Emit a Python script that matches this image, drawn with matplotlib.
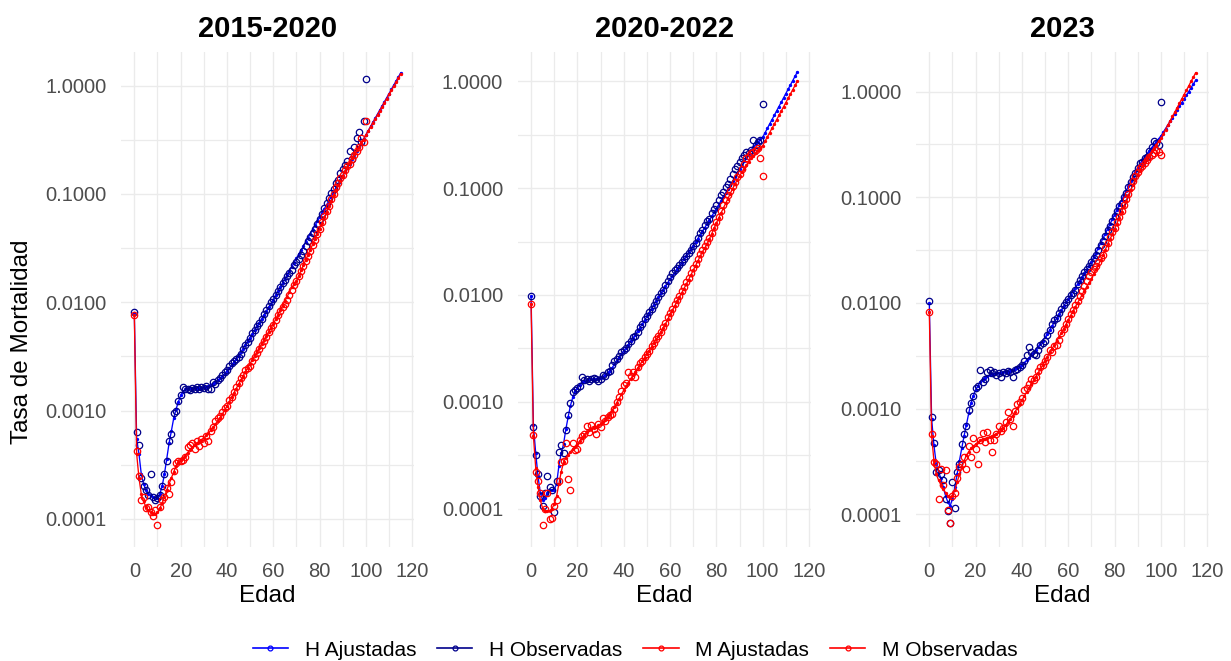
import numpy as np
from matplotlib import pyplot as plt
from matplotlib.lines import Line2D
from matplotlib.ticker import FixedLocator, FuncFormatter

plt.rcParams['font.family'] = ['Liberation Sans', 'DejaVu Sans']

# tasas de mortalidad por 100 000 habitantes, edades 0-100 (observadas) y 0-115 (ajustadas)
edad_obs = list(range(0, 101))
edad_fit = list(range(0, 116))

titulos = ["2015-2020", "2020-2022", "2023"]

h_obs_1520 = [810, 63, 48, 24, 20, 18.5, 16.5, 26, 16, 15,
              15.5, 16.5, 20, 26, 34, 53, 61, 96, 100, 124,
              138, 164, 157, 160, 155, 163, 158, 165, 160, 167,
              162, 170, 160, 158, 185, 178, 190, 200, 215, 225,
              235, 260, 275, 290, 300, 310, 330, 370, 400, 430,
              470, 520, 560, 600, 650, 700, 780, 850, 920, 1000,
              1080, 1170, 1260, 1380, 1500, 1620, 1750, 1880, 2000, 2200,
              2350, 2500, 2750, 3000, 3300, 3650, 4000, 4400, 4800, 5300,
              5900, 6600, 7400, 8200, 9200, 10200, 11000, 12500, 13500, 15500,
              17000, 18500, 20000, 25000, 21000, 27000, 33000, 37000, 30000, 47000,
              115000]
m_obs_1520 = [770, 42, 25, 15, 16, 12.5, 13, 11.5, 10.7, 12,
              8.8, 13, 15, 16, 19.5, 17, 22, 28, 33, 34,
              34, 35, 37, 46, 48, 50, 44, 53, 47, 55,
              50, 58, 52, 65, 70, 80, 85, 90, 97, 105,
              110, 125, 135, 150, 165, 180, 200, 215, 235, 250,
              260, 285, 310, 340, 370, 400, 440, 480, 530, 580,
              620, 690, 760, 830, 900, 970, 1060, 1170, 1300, 1440,
              1570, 1750, 1950, 2150, 2400, 2650, 3000, 3400, 3800, 4300,
              4800, 5500, 6300, 7000, 7800, 8900, 10000, 11500, 12500, 14000,
              15000, 16500, 18000, 19000, 21000, 23000, 25000, 27000, 33000, 30000,
              47000]
h_fit_1520 = [800, 55, 40, 26, 21, 18.5, 17, 16.5, 16, 15.5,
              15.5, 17, 20, 26, 36, 50, 65, 85, 103, 120,
              138, 150, 157, 160, 161, 161, 161, 161, 162, 163,
              164, 166, 169, 173, 178, 184, 191, 199, 208, 219,
              232, 246, 262, 280, 300, 322, 347, 374, 404, 437,
              473, 512, 555, 601, 651, 705, 765, 830, 900, 975,
              1060, 1160, 1260, 1380, 1500, 1640, 1790, 1960, 2130, 2330,
              2540, 2780, 3030, 3300, 3610, 3940, 4300, 4690, 5120, 5590,
              6100, 6660, 7260, 7930, 8650, 9440, 10400, 11300, 12300, 13500,
              14700, 16100, 17500, 19100, 20900, 22800, 24900, 27100, 29600, 32300,
              35300, 38500, 42000, 45900, 50000, 54600, 59600, 65100, 71000, 77500,
              84600, 92300, 101000, 110000, 120000, 131000]
m_fit_1520 = [770, 40, 24, 17, 14.5, 13, 12, 11.5, 11, 11,
              11.5, 12.5, 14, 16, 18.5, 21, 24, 27, 31, 33.5,
              35, 36.5, 38.5, 41, 43.5, 46, 48, 50, 52, 54,
              56, 59, 62, 66, 70, 75, 80, 86, 93, 101,
              110, 121, 133, 146, 160, 175, 192, 210, 229, 250,
              272, 296, 322, 350, 381, 414, 450, 490, 533, 580,
              630, 695, 765, 845, 930, 1025, 1130, 1250, 1370, 1470,
              1570, 1760, 1970, 2200, 2460, 2750, 3070, 3430, 3830, 4290,
              4800, 5400, 6100, 6850, 7700, 8650, 9700, 10800, 12000, 13300,
              14700, 16200, 17800, 19500, 21300, 23200, 25200, 27300, 29500, 31800,
              35000, 38200, 41600, 45400, 49400, 53900, 58700, 64000, 69800, 76000,
              82900, 90300, 98500, 107000, 117000, 128000]

h_obs_2022 = [970, 58, 32, 21, 13, 10.6, 14, 20, 16, 15,
              9.3, 18, 34, 39, 33, 54, 75, 97, 124, 130,
              135, 140, 170, 160, 165, 158, 162, 168, 163, 158,
              165, 180, 175, 190, 195, 220, 240, 250, 270, 290,
              305, 320, 345, 370, 400, 410, 450, 500, 540, 590,
              640, 700, 740, 800, 880, 960, 1050, 1120, 1230, 1350,
              1480, 1600, 1700, 1800, 1900, 2050, 2150, 2300, 2450, 2650,
              2850, 3050, 3400, 3800, 4100, 4500, 4900, 5200, 5800, 6400,
              7000, 7800, 8600, 9300, 10300, 11000, 12300, 13600, 15000, 16300,
              17500, 19000, 20500, 22000, 21500, 23000, 28000, 25500, 27000, 28000,
              62000]
m_obs_2022 = [830, 49, 22, 18, 14, 7, 10, 14, 8, 8.2,
              10.5, 12, 18, 27, 28, 41, 19, 15, 41, 35,
              36, 44, 48, 50, 59, 52, 60, 55, 50, 62,
              58, 70, 66, 72, 75, 77, 85, 100, 110, 125,
              145, 150, 190, 175, 190, 170, 210, 230, 240, 260,
              280, 300, 330, 355, 385, 410, 450, 500, 550, 620,
              680, 740, 820, 890, 980, 1080, 1200, 1320, 1450, 1600,
              1780, 1950, 2150, 2400, 2650, 2900, 3150, 3400, 3800, 4300,
              4800, 5400, 6100, 6900, 7800, 8600, 9500, 10600, 11500, 12800,
              13600, 15000, 17000, 19000, 20000, 21500, 22000, 23000, 24000, 19000,
              13000]
h_fit_2022 = [970, 60, 33, 20, 14, 12, 12.5, 14, 15, 15,
              15, 17, 25, 33, 40, 55, 72, 92, 110, 125,
              136, 145, 152, 157, 160, 162, 163, 164, 165, 166,
              168, 172, 178, 186, 196, 208, 225, 242, 260, 280,
              300, 320, 343, 368, 395, 425, 458, 495, 535, 580,
              630, 685, 745, 810, 880, 955, 1035, 1120, 1210, 1305,
              1405, 1510, 1620, 1740, 1870, 2010, 2160, 2320, 2500, 2690,
              2900, 3130, 3380, 3650, 3950, 4280, 4640, 5030, 5460, 5930,
              6440, 7000, 7610, 8280, 9010, 9800, 10700, 11600, 12700, 13800,
              15000, 16300, 17800, 19300, 21000, 22800, 24300, 25800, 27200, 28600,
              30000, 33000, 36300, 39900, 43800, 48100, 52900, 58100, 63800, 70100,
              77000, 84600, 93000, 102000, 112000, 123000]
m_fit_2022 = [830, 48, 24, 16, 12, 10, 9.5, 9.5, 9.5, 10,
              11, 13, 17, 22, 27, 30, 32, 34, 36, 38,
              40, 43, 46, 49, 52, 54, 56, 57, 58, 60,
              62, 65, 68, 72, 77, 83, 90, 98, 107, 117,
              128, 139, 151, 164, 177, 191, 206, 222, 240, 259,
              280, 302, 327, 354, 383, 415, 450, 490, 535, 590,
              660, 720, 790, 870, 955, 1045, 1145, 1260, 1390, 1540,
              1700, 1880, 2080, 2300, 2540, 2760, 3000, 3350, 3750, 4200,
              4700, 5250, 5850, 6500, 7200, 8000, 8900, 9900, 10900, 11900,
              13000, 14100, 15200, 16400, 17700, 19000, 20200, 21400, 22600, 23800,
              25000, 27500, 30200, 33100, 36300, 39800, 43700, 48000, 52700, 57800,
              63400, 69600, 76400, 83800, 92000, 101000]

h_obs_2023 = [1050, 83, 47, 25, 26, 24, 21, 13.8, 10.8, 8.2,
              20, 11.5, 25, 30, 46, 57, 68, 98, 114, 132,
              158, 165, 230, 180, 190, 220, 230, 215, 220, 210,
              218, 200, 220, 215, 225, 220, 200, 230, 235, 250,
              260, 280, 320, 380, 340, 330, 320, 360, 400, 420,
              440, 500, 560, 630, 690, 720, 800, 880, 950, 1030,
              1100, 1180, 1250, 1330, 1500, 1650, 1800, 1950, 2100, 2250,
              2450, 2650, 2850, 3200, 3550, 3900, 4300, 4900, 5300, 6000,
              6700, 7500, 8200, 8900, 10000, 11000, 12500, 14000, 15500, 17000,
              19000, 21000, 21500, 23500, 24000, 27500, 30000, 34000, 33000, 31000,
              80000]
m_obs_2023 = [830, 57, 31, 30, 13.8, 27, 19, 26, 11, 8.2,
              15, 16, 22, 28, 30, 35, 27, 44, 35, 53,
              41, 30, 50, 59, 48, 60, 50, 39, 50, 58,
              68, 62, 66, 75, 92, 80, 68, 95, 110, 115,
              125, 150, 158, 170, 190, 185, 200, 225, 250, 260,
              280, 310, 360, 340, 390, 400, 450, 520, 570, 630,
              700, 780, 860, 950, 1050, 1170, 1300, 1450, 1600, 1780,
              1950, 2100, 2250, 2450, 2650, 2850, 3300, 3700, 4200, 4700,
              5100, 5800, 6500, 7500, 8500, 9600, 10800, 12500, 14200, 16000,
              17400, 19000, 20000, 21000, 22500, 24000, 25000, 26500, 28000, 27000,
              25000]
h_fit_2023 = [1000, 80, 45, 30, 25, 22, 18, 15, 13, 12,
              14, 18, 24, 32, 42, 55, 70, 90, 112, 132,
              150, 165, 178, 188, 196, 202, 207, 211, 214, 216,
              218, 219, 220, 221, 223, 226, 230, 235, 242, 250,
              260, 272, 286, 302, 320, 340, 362, 386, 412, 441,
              472, 510, 555, 605, 660, 720, 785, 855, 930, 1010,
              1095, 1185, 1285, 1390, 1505, 1630, 1765, 1910, 2070, 2245,
              2440, 2710, 3000, 3330, 3690, 4090, 4540, 5040, 5580, 6190,
              6870, 7620, 8450, 9370, 10400, 11500, 12800, 14200, 15700, 17400,
              19000, 20700, 22400, 24000, 25800, 27600, 29500, 31500, 33600, 35800,
              38000, 41200, 44700, 48400, 52500, 56900, 61700, 66900, 72500, 78600,
              85200, 92400, 100000, 109000, 118000, 128000]
m_fit_2023 = [830, 55, 32, 24, 21, 19, 17.5, 16, 15, 14.5,
              15, 17, 20, 24, 28, 32, 36, 39, 42, 44,
              46, 48, 50, 51, 52, 53, 54, 55, 56, 58,
              60, 63, 66, 70, 75, 80, 86, 93, 101, 110,
              120, 131, 143, 156, 170, 185, 201, 218, 237, 260,
              285, 310, 340, 370, 400, 435, 475, 520, 570, 625,
              690, 760, 835, 915, 1000, 1095, 1200, 1310, 1430, 1560,
              1700, 1880, 2080, 2300, 2550, 2850, 3200, 3600, 4000, 4480,
              5000, 5650, 6400, 7250, 8200, 9300, 10500, 11800, 13200, 14700,
              16300, 17900, 19600, 21400, 23300, 25200, 27200, 29300, 31500, 33800,
              36200, 39800, 43800, 48200, 53000, 58300, 64100, 70500, 77600, 85300,
              93800, 103000, 113000, 125000, 137000, 151000]

paneles = [
    (h_obs_1520, m_obs_1520, h_fit_1520, m_fit_1520),
    (h_obs_2022, m_obs_2022, h_fit_2022, m_fit_2022),
    (h_obs_2023, m_obs_2023, h_fit_2023, m_fit_2023),
]

# limites del eje y de cada panel (log10) y posicion de los ejes
ylims = [(-4.2585, 0.311), (-4.36, 0.276), (-4.31, 0.376)]
lefts = [0.0983, 0.4206, 0.7441]

c_h_fit = "#0000FF"
c_h_obs = "#00008B"
c_m_fit = "#FF0000"
c_m_obs = "#FF0000"
gris = "#4D4D4D"

fig = plt.figure(figsize=(12.31, 6.61), dpi=100)

for i, (h_obs, m_obs, h_fit, m_fit) in enumerate(paneles):
    ax = fig.add_axes([lefts[i], 0.1725, 0.238, 0.7489])
    ax.set_yscale("log")

    ax.plot(edad_fit, np.array(h_fit) / 1e5, color=c_h_fit, lw=0.95,
            marker="o", ms=1.4, zorder=3)
    ax.plot(edad_obs, np.array(h_obs) / 1e5, ls="none", marker="o", ms=4.6,
            mfc="none", mec=c_h_obs, mew=0.9, zorder=4)
    ax.plot(edad_fit, np.array(m_fit) / 1e5, color=c_m_fit, lw=0.95,
            marker="o", ms=1.4, zorder=5)
    ax.plot(edad_obs, np.array(m_obs) / 1e5, ls="none", marker="o", ms=4.6,
            mfc="none", mec=c_m_obs, mew=0.9, zorder=6)

    ax.set_xlim(-5.75, 120.75)
    ax.set_ylim(10 ** ylims[i][0], 10 ** ylims[i][1])

    ax.xaxis.set_major_locator(FixedLocator([0, 20, 40, 60, 80, 100, 120]))
    ax.xaxis.set_minor_locator(FixedLocator([10, 30, 50, 70, 90, 110]))
    ax.yaxis.set_major_locator(FixedLocator([1e-4, 1e-3, 1e-2, 1e-1, 1]))
    ax.yaxis.set_minor_locator(FixedLocator([10 ** -4.5, 10 ** -3.5, 10 ** -2.5,
                                             10 ** -1.5, 10 ** -0.5]))
    ax.yaxis.set_major_formatter(FuncFormatter(lambda v, p: "%.4f" % v))
    ax.yaxis.set_minor_formatter(FuncFormatter(lambda v, p: ""))

    ax.grid(True, which="major", color="#EBEBEB", lw=1.0)
    ax.grid(True, which="minor", color="#EBEBEB", lw=0.9)
    ax.set_axisbelow(True)
    for s in ax.spines.values():
        s.set_visible(False)
    ax.tick_params(which="both", length=0, labelsize=14.5, labelcolor=gris)
    ax.tick_params(axis="x", pad=10.5)
    ax.tick_params(axis="y", pad=10.5)

    ax.set_title(titulos[i], fontsize=21, fontweight="bold", pad=11)
    ax.set_xlabel("Edad", fontsize=17.5, labelpad=3)

fig.text(22 / 1231, 1 - 342 / 661, "Tasa de Mortalidad", rotation=90,
         ha="center", va="center", fontsize=17.5)

handles = [
    Line2D([], [], color=c_h_fit, lw=1.2, marker="o", ms=3.5, mfc="none", mew=0.9),
    Line2D([], [], color=c_h_obs, lw=1.2, marker="o", ms=3.5, mfc="none", mew=0.9),
    Line2D([], [], color=c_m_fit, lw=1.2, marker="o", ms=3.5, mfc="none", mew=0.9),
    Line2D([], [], color=c_m_obs, lw=1.2, marker="o", ms=3.5, mfc="none", mew=0.9),
]
etiquetas = ["H Ajustadas", "H Observadas", "M Ajustadas", "M Observadas"]
fig.legend(handles, etiquetas, loc="center", bbox_to_anchor=(0.516, 0.0166),
           ncol=4, frameon=False, fontsize=15, handlelength=1.7,
           handletextpad=0.8, columnspacing=1.0)

plt.savefig("out.png", dpi=100)
